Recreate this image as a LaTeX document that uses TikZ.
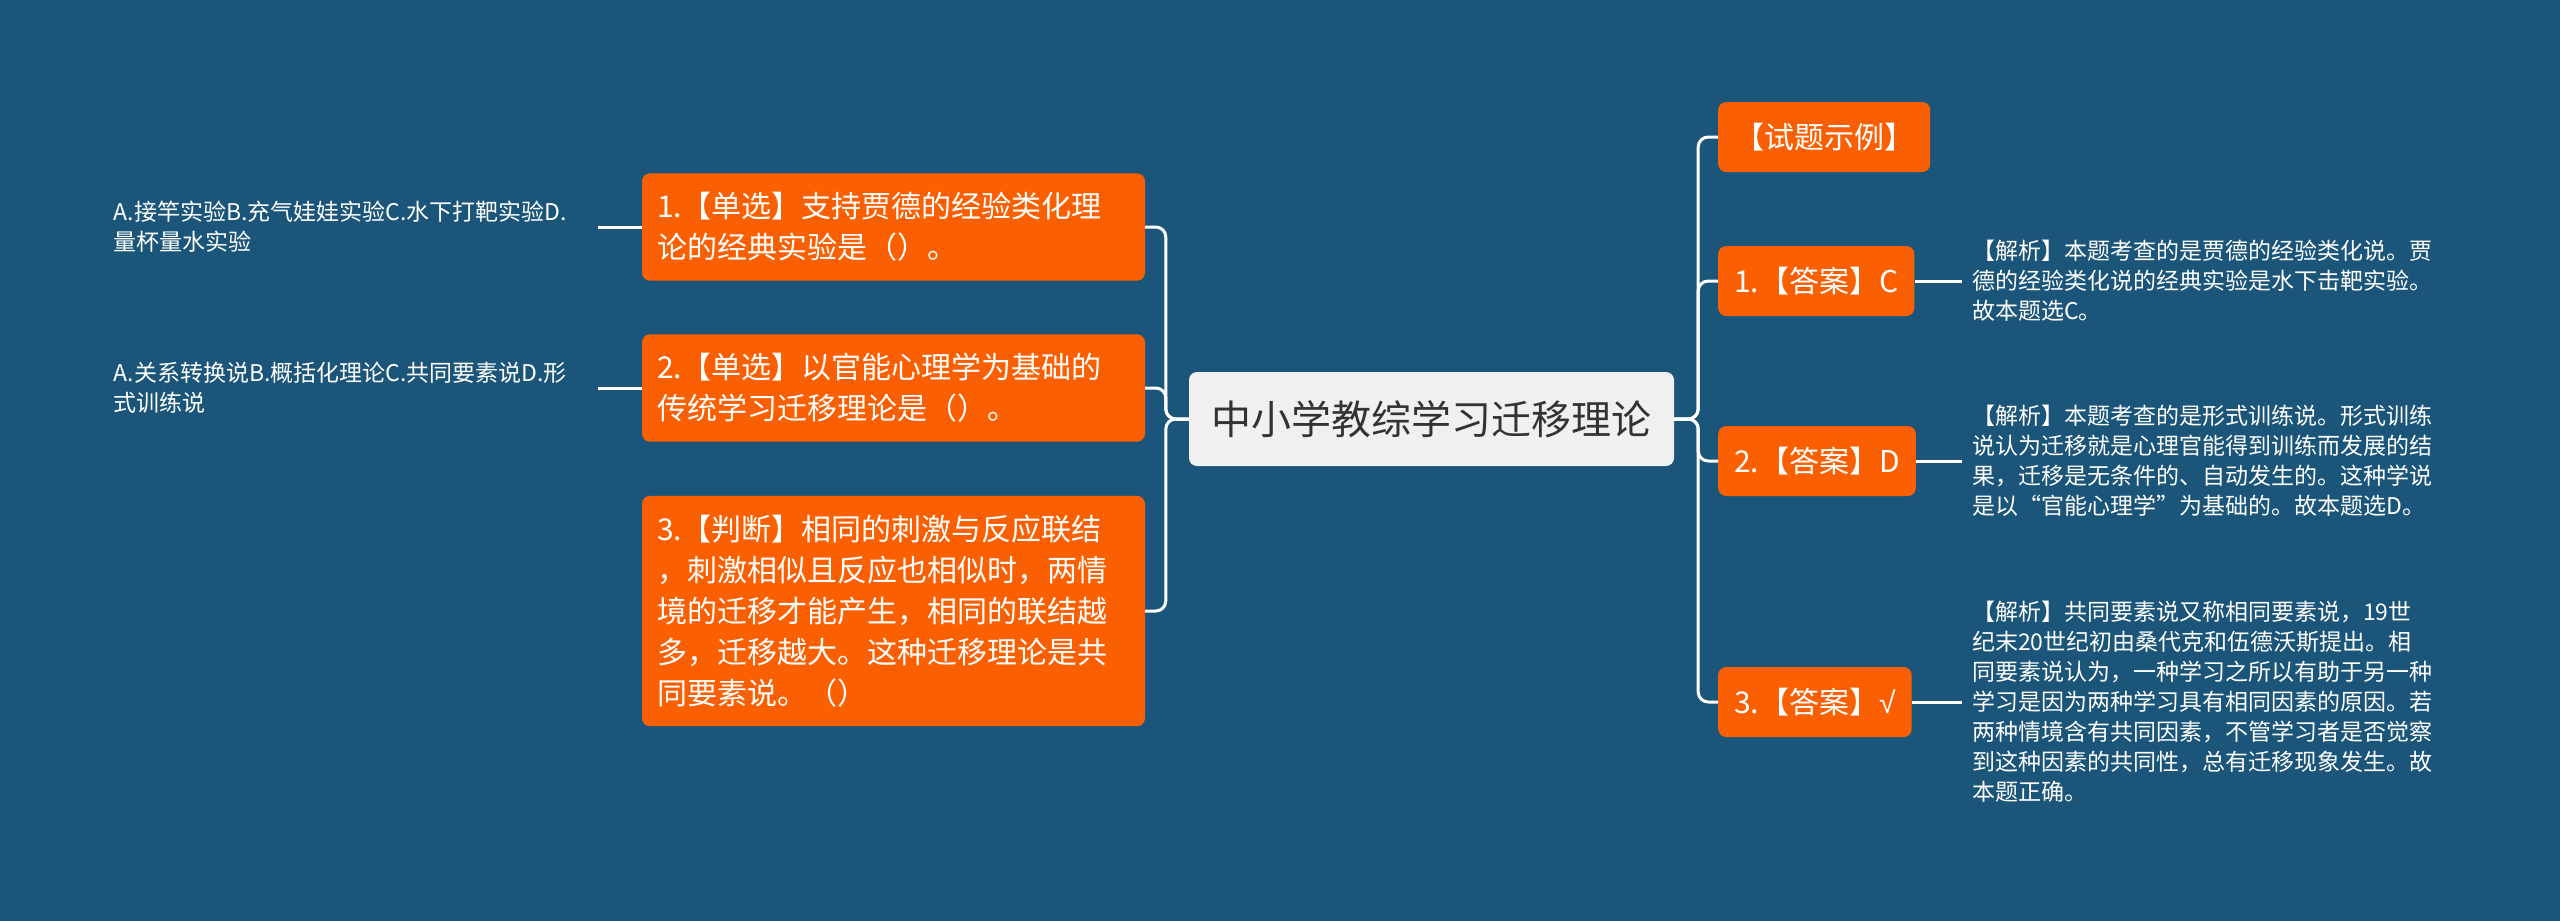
\documentclass[tikz,border=0pt]{standalone}
\usepackage{fontspec}
\setmainfont{Noto Sans CJK SC}
\newfontfamily\symfont{Liberation Sans}
\usetikzlibrary{positioning}

\definecolor{bgblue}{RGB}{27,85,121}
\definecolor{qorange}{RGB}{250,96,2}
\definecolor{rootgray}{RGB}{240,240,240}
\definecolor{roottext}{RGB}{51,51,51}

\begin{document}
\begin{tikzpicture}[
  x=1pt, y=-1pt,
  root/.style={
    fill=rootgray, text=roottext, rounded corners=8pt, inner sep=0pt,
    minimum width=485pt, minimum height=94pt, font=\fontsize{40}{48}\selectfont
  },
  question/.style={
    fill=qorange, text=white, rounded corners=8pt, text width=473pt,
    inner xsep=15pt, inner ysep=19pt, align=left, font=\fontsize{30}{41}\selectfont
  },
  answer/.style={
    fill=qorange, text=white, rounded corners=8pt, inner xsep=16pt,
    minimum height=70pt, font=\fontsize{30}{36}\selectfont
  },
  note/.style={
    text=white, text width=474pt, align=left, inner xsep=10pt, inner ysep=0pt,
    font=\fontsize{23}{30}\selectfont
  },
  branch/.style={
    draw=white, line width=3pt, rounded corners=10pt
  }
]

% geometry
\def\lspine{23}     % root -> left spine
\def\rspine{24}     % root -> right spine

% background
\fill[bgblue] (0,0) rectangle (2560,921);
\useasboundingbox (0,0) rectangle (2560,921);

% root
\node[root] (root) at (1431.5,419) {中小学教综学习迁移理论};

% questions (left)
\node[question] (q1) at (893.5,227) {1.【单选】支持贾德的经验类化理\\论的经典实验是（）。};
\node[question] (q2) at (893.5,388) {2.【单选】以官能心理学为基础的\\传统学习迁移理论是（）。};
\node[question] (q3) at (893.5,611) {3.【判断】相同的刺激与反应联结\\，刺激相似且反应也相似时，两情\\境的迁移才能产生，相同的联结越\\多，迁移越大。这种迁移理论是共\\同要素说。（）};

% options (far left)
\node[note, anchor=east] (o1) at (598,227) {A.接竿实验B.充气娃娃实验C.水下打靶实验D.\\量杯量水实验};
\node[note, anchor=east] (o2) at (598,388) {A.关系转换说B.概括化理论C.共同要素说D.形\\式训练说};

% answers (right)
\node[answer, anchor=west] (a0) at (1718,137) {【试题示例】};
\node[answer, anchor=west] (a1) at (1718,281) {1.【答案】C};
\node[answer, anchor=west] (a2) at (1718,461) {2.【答案】D};
\node[answer, anchor=west] (a3) at (1718,702) {3.【答案】{\symfont √}};

% explanations (far right)
\node[note, text width=480pt, anchor=west] (e1) at (1962,281) {【解析】本题考查的是贾德的经验类化说。贾\\德的经验类化说的经典实验是水下击靶实验。\\故本题选C。};
\node[note, text width=480pt, anchor=west] (e2) at (1962,461) {【解析】本题考查的是形式训练说。形式训练\\说认为迁移就是心理官能得到训练而发展的结\\果，迁移是无条件的、自动发生的。这种学说\\是以“官能心理学”为基础的。故本题选D。};
\node[note, text width=480pt, anchor=west] (e3) at (1962,702) {【解析】共同要素说又称相同要素说，19世\\纪末20世纪初由桑代克和伍德沃斯提出。相\\同要素说认为，一种学习之所以有助于另一种\\学习是因为两种学习具有相同因素的原因。若\\两种情境含有共同因素，不管学习者是否觉察\\到这种因素的共同性，总有迁移现象发生。故\\本题正确。};

% branches root -> questions
\foreach \q in {q1,q2,q3}
  \draw[branch] (root.west) -- ++(-\lspine,0) |- (\q.east);
% branches root -> answers
\foreach \a in {a0,a1,a2,a3}
  \draw[branch] (root.east) -- ++(\rspine,0) |- (\a.west);

% leaves
\draw[branch] (q1.west) -- (o1.east);
\draw[branch] (q2.west) -- (o2.east);
\draw[branch] (a1.east) -- (e1.west);
\draw[branch] (a2.east) -- (e2.west);
\draw[branch] (a3.east) -- (e3.west);

\end{tikzpicture}
\end{document}
